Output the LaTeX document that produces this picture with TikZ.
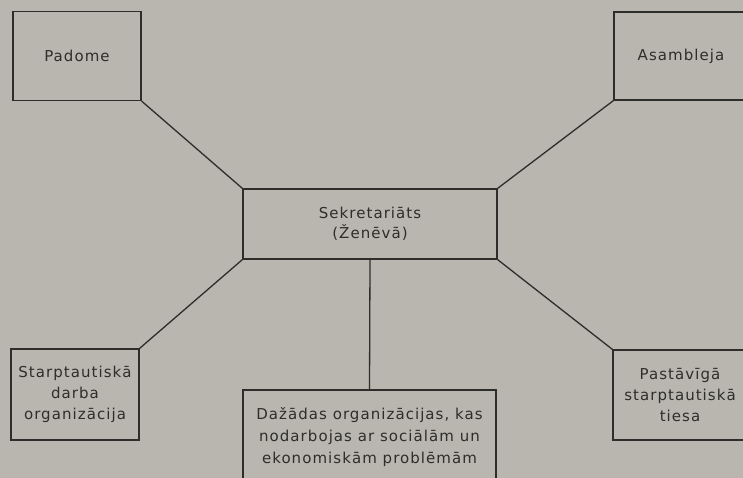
\documentclass[tikz,border=0pt]{standalone}
\usepackage{fontspec}
\setmainfont{DejaVu Sans}[LetterSpace=7]
\usepackage{tikz}
\usetikzlibrary{positioning}
\definecolor{paper}{RGB}{184,182,174}
\definecolor{ink}{RGB}{45,45,43}

\begin{document}
\begin{tikzpicture}[x=1pt,y=-1pt,
    box/.style={draw=ink,line width=1.3pt,text=ink,align=center,inner sep=0pt},
    txt/.style={font=\fontsize{15}{21}\selectfont},
    link/.style={draw=ink,line width=1.3pt}]
    \clip (0,0) rectangle (743,478);
    \fill[paper] (0,0) rectangle (743,478);
    % centre
    \node[box,txt,font=\fontsize{15}{19.5}\selectfont,minimum width=254pt,minimum height=70pt] (sekr) at (370,224) {Sekretariāts\\(Ženēvā)};
    % top row
    \node[box,txt,minimum width=128pt,minimum height=89pt] (padome) at (77,56) {Padome};
    \node[box,txt,minimum width=134pt,minimum height=88pt] (asambl) at (681,56) {Asambleja};
    % bottom row
    \node[box,txt,minimum width=128pt,minimum height=91pt] (darbs) at (75,394.5) {Starptautiskā\\darba\\organizācija};
    \node[box,txt,font=\fontsize{15}{22}\selectfont,minimum width=253pt,minimum height=94pt] (dazadas) at (369.5,437) {Dažādas organizācijas, kas\\nodarbojas ar sociālām un\\ekonomiskām problēmām};
    \node[box,txt,minimum width=134pt,minimum height=90pt] (tiesa) at (680,395) {Pastāvīgā\\starptautiskā\\tiesa};
    % links
    \draw[link] (padome.south east) -- (sekr.north west);
    \draw[link] (asambl.south west) -- (sekr.north east);
    \draw[link] (sekr.south west) -- (darbs.north east);
    \draw[link] (sekr.south east) -- (tiesa.north west);
    \draw[link] (sekr.south) -- (dazadas.north);
\end{tikzpicture}
\end{document}
